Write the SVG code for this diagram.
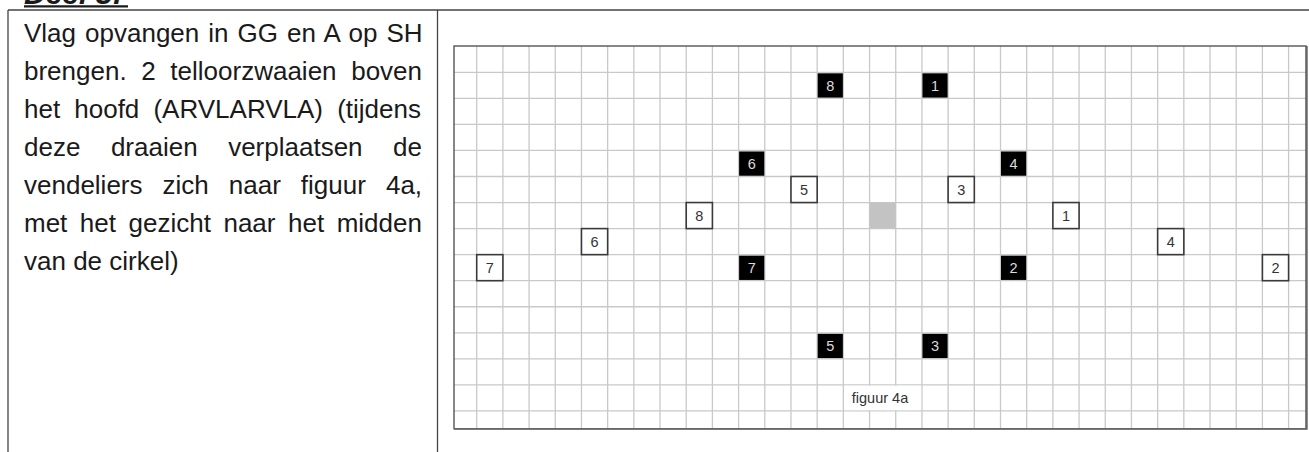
<svg xmlns="http://www.w3.org/2000/svg" width="1309" height="452" viewBox="0 0 1309 452">
<style>
.tbl{stroke:#444;stroke-width:1.3;fill:none}
.body{font-family:"Liberation Sans",Arial,sans-serif;font-size:26px;fill:#1a1a1a}
.grid{stroke:#c9c9c9;stroke-width:1.3;fill:none}
.wb rect{fill:#fff;stroke:#3a3a3a;stroke-width:1.6}
.wb text{fill:#333}
.bb rect{fill:#000}
.bb text{fill:#dcdcdc}
.num{font-family:"Liberation Sans",Arial,sans-serif;font-size:14.5px;text-anchor:middle}
</style>
<rect width="1309" height="452" fill="#fff"/>
<g id="header">
<text x="24" y="4" font-family="'Liberation Sans',Arial,sans-serif" font-size="30" font-weight="bold" font-style="italic" fill="#1a1a1a">Deel 3:</text>
<line x1="24" y1="6.4" x2="128" y2="6.4" stroke="#1a1a1a" stroke-width="2.2"/>
</g>
<g id="table">
<path class="tbl" d="M8 10H1309M8 10V452M437.5 10V452"/>
</g>
<g id="description" class="body">
<text x="24" y="42" word-spacing="1.8">Vlag opvangen in GG en A op SH</text>
<text x="24" y="80" word-spacing="7.4">brengen. 2 telloorzwaaien boven</text>
<text x="24" y="118" word-spacing="6.9">het hoofd (ARVLARVLA) (tijdens</text>
<text x="24" y="156" word-spacing="23.3">deze draaien verplaatsen de</text>
<text x="24" y="194" word-spacing="12.8">vendeliers zich naar figuur 4a,</text>
<text x="24" y="232" word-spacing="5.3">met het gezicht naar het midden</text>
<text x="24" y="270">van de cirkel)</text>
</g>
<g id="grid">
<path class="grid" d="M476.7 46V428.7M502.89 46V428.7M529.08 46V428.7M555.27 46V428.7M581.46 46V428.7M607.65 46V428.7M633.84 46V428.7M660.03 46V428.7M686.22 46V428.7M712.41 46V428.7M738.6 46V428.7M764.79 46V428.7M790.98 46V428.7M817.17 46V428.7M843.36 46V428.7M869.55 46V428.7M895.74 46V428.7M921.93 46V428.7M948.12 46V428.7M974.31 46V428.7M1000.5 46V428.7M1026.69 46V428.7M1052.88 46V428.7M1079.07 46V428.7M1105.26 46V428.7M1131.45 46V428.7M1157.64 46V428.7M1183.83 46V428.7M1210.02 46V428.7M1236.21 46V428.7M1262.4 46V428.7M1288.59 46V428.7"/>
<path class="grid" d="M454 72.3H1306M454 98.35H1306M454 124.4H1306M454 150.45H1306M454 176.5H1306M454 202.55H1306M454 228.6H1306M454 254.65H1306M454 280.7H1306M454 306.75H1306M454 332.8H1306M454 358.85H1306M454 384.9H1306M454 410.95H1306"/>
<rect x="454" y="46" width="852" height="382.7" fill="none" stroke="#555" stroke-width="1.4"/>
<path d="M454 428.9H1306.8V46" fill="none" stroke="#666" stroke-width="1.8"/>
</g>
<g id="center">
<rect x="869.55" y="202.55" width="26.19" height="26.05" fill="#c3c3c3"/>
</g>
<g id="b8" class="bb"><rect x="817.67" y="73.3" width="25.2" height="24.3"/><text class="num" x="830.27" y="90.5">8</text></g>
<g id="b1" class="bb"><rect x="922.43" y="73.3" width="25.2" height="24.3"/><text class="num" x="935.03" y="90.5">1</text></g>
<g id="b6" class="bb"><rect x="739.1" y="151.45" width="25.2" height="24.3"/><text class="num" x="751.7" y="168.65">6</text></g>
<g id="b4" class="bb"><rect x="1001" y="151.45" width="25.2" height="24.3"/><text class="num" x="1013.6" y="168.65">4</text></g>
<g id="b7" class="bb"><rect x="739.1" y="255.65" width="25.2" height="24.3"/><text class="num" x="751.7" y="272.85">7</text></g>
<g id="b2" class="bb"><rect x="1001" y="255.65" width="25.2" height="24.3"/><text class="num" x="1013.6" y="272.85">2</text></g>
<g id="b5" class="bb"><rect x="817.67" y="333.8" width="25.2" height="24.3"/><text class="num" x="830.27" y="351">5</text></g>
<g id="b3" class="bb"><rect x="922.43" y="333.8" width="25.2" height="24.3"/><text class="num" x="935.03" y="351">3</text></g>
<g id="w5" class="wb"><rect x="790.98" y="176.5" width="26.19" height="26.05"/><text class="num" x="804.08" y="194.7">5</text></g>
<g id="w3" class="wb"><rect x="948.12" y="176.5" width="26.19" height="26.05"/><text class="num" x="961.22" y="194.7">3</text></g>
<g id="w8" class="wb"><rect x="686.22" y="202.55" width="26.19" height="26.05"/><text class="num" x="699.32" y="220.75">8</text></g>
<g id="w1" class="wb"><rect x="1052.88" y="202.55" width="26.19" height="26.05"/><text class="num" x="1065.98" y="220.75">1</text></g>
<g id="w6" class="wb"><rect x="581.46" y="228.6" width="26.19" height="26.05"/><text class="num" x="594.56" y="246.8">6</text></g>
<g id="w4" class="wb"><rect x="1157.64" y="228.6" width="26.19" height="26.05"/><text class="num" x="1170.74" y="246.8">4</text></g>
<g id="w7" class="wb"><rect x="476.7" y="254.65" width="26.19" height="26.05"/><text class="num" x="489.8" y="272.85">7</text></g>
<g id="w2" class="wb"><rect x="1262.4" y="254.65" width="26.19" height="26.05"/><text class="num" x="1275.5" y="272.85">2</text></g>
<g id="caption">
<rect x="844.2" y="385.7" width="77" height="24.5" fill="#fff"/>
<text class="num" x="880" y="403" fill="#333">figuur 4a</text>
</g>
</svg>
